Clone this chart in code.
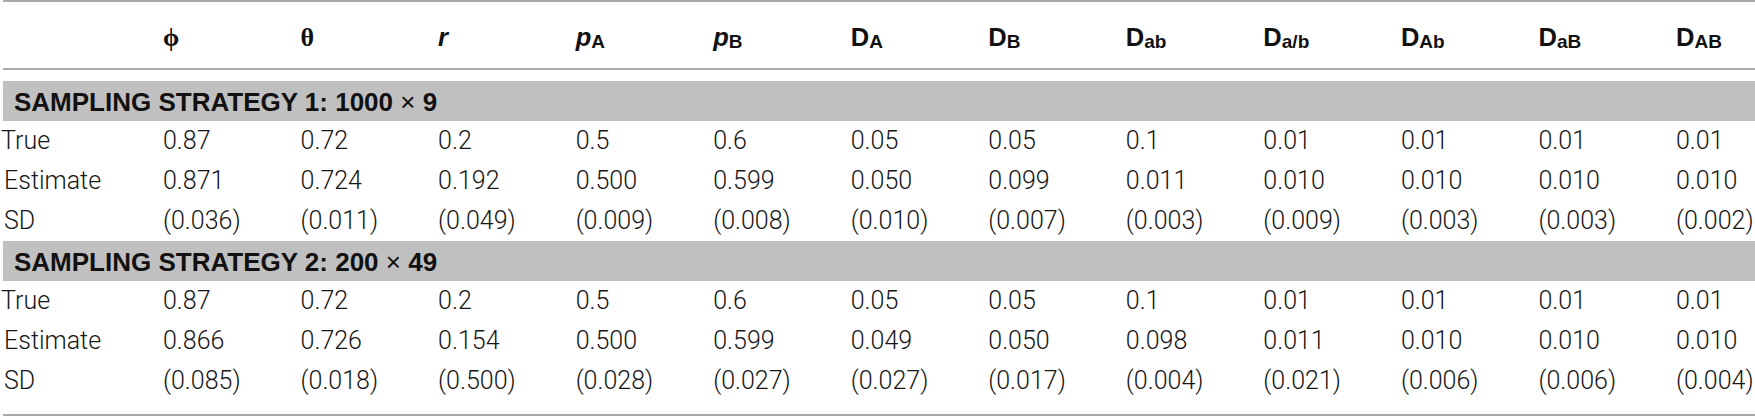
<!DOCTYPE html>
<html>
<head>
<meta charset="utf-8">
<script src="https://cdn.jsdelivr.net/npm/d3@7"></script>
<style>
  html, body { margin: 0; padding: 0; background: #fff; }
  .body-text { font-family: Roboto, 'Liberation Sans', sans-serif; font-weight: 300; font-size: 25px; fill: #161616; }
  .head-text { font-family: 'Liberation Sans', Arial, sans-serif; font-weight: bold; font-size: 25.5px; fill: #111; }
  .greek { font-family: 'Liberation Serif', 'DejaVu Serif', serif; font-weight: bold; font-size: 26px; }
  .section-text { font-family: 'Liberation Sans', Arial, sans-serif; font-weight: bold; font-size: 26px; fill: #111; }
</style>
</head>
<body>
<div id="table"></div>
<script>
// column headers: symbol, subscript, style
const columns = ['phi', 'theta', 'r', 'pA', 'pB', 'DA', 'DB', 'Dab', 'Da/b', 'DAb', 'DaB', 'DAB']
const headerBase = ['\u03D5', '\u03B8', 'r', 'p', 'p', 'D', 'D', 'D', 'D', 'D', 'D', 'D']
const headerSub = ['', '', '', 'A', 'B', 'A', 'B', 'ab', 'a/b', 'Ab', 'aB', 'AB']
const headerKind = ['greek', 'greek', 'italic', 'italic', 'italic', 'plain', 'plain', 'plain', 'plain', 'plain', 'plain', 'plain']

const sections = ['SAMPLING STRATEGY 1: 1000 \u00D7 9', 'SAMPLING STRATEGY 2: 200 \u00D7 49']
const rowLabels = ['True', 'Estimate', 'SD']

const trueValues = [0.87, 0.72, 0.2, 0.5, 0.6, 0.05, 0.05, 0.1, 0.01, 0.01, 0.01, 0.01]
const estimate1 = [0.871, 0.724, 0.192, 0.5, 0.599, 0.05, 0.099, 0.011, 0.01, 0.01, 0.01, 0.01]
const sd1 = [0.036, 0.011, 0.049, 0.009, 0.008, 0.01, 0.007, 0.003, 0.009, 0.003, 0.003, 0.002]
const estimate2 = [0.866, 0.726, 0.154, 0.5, 0.599, 0.049, 0.05, 0.098, 0.011, 0.01, 0.01, 0.01]
const sd2 = [0.085, 0.018, 0.5, 0.028, 0.027, 0.027, 0.017, 0.004, 0.021, 0.006, 0.006, 0.004]

const width = 1755
const height = 416

const svg = d3
  .select('#table')
  .append('svg')
  .attr('width', width)
  .attr('height', height)

const xPositionScale = d3
  .scalePoint()
  .domain(columns)
  .range([163, 1676])

// 8 rows of 40px: band, True, Estimate, SD, band, True, Estimate, SD
const yPositionScale = d3
  .scaleBand()
  .domain(d3.range(8))
  .range([81, 401])

const f3 = d3.format('.3f')

const tableRows = [
  { section: 0, values: [trueValues, estimate1, sd1] },
  { section: 1, values: [trueValues, estimate2, sd2] }
]

// horizontal rules
svg
  .selectAll('.rule')
  .data([1, 69, 415])
  .enter()
  .append('line')
  .attr('class', 'rule')
  .attr('x1', 3)
  .attr('x2', width)
  .attr('y1', d => d)
  .attr('y2', d => d)
  .attr('stroke', '#a9a9a9')
  .attr('stroke-width', 2)

// header
const header = svg
  .selectAll('.head')
  .data(columns)
  .enter()
  .append('text')
  .attr('class', (d, i) => (headerKind[i] === 'greek' ? 'head-text greek' : 'head-text'))
  .attr('x', d => xPositionScale(d))
  .attr('y', 46)

header
  .append('tspan')
  .attr('font-style', (d, i) => (headerKind[i] === 'italic' ? 'italic' : 'normal'))
  .text((d, i) => headerBase[i])

header
  .filter((d, i) => headerSub[i] !== '')
  .append('tspan')
  .attr('font-size', 19)
  .attr('dy', 2)
  .text(d => headerSub[columns.indexOf(d)])

// sections
tableRows.forEach(block => {
  const bandRow = block.section * 4

  svg
    .append('rect')
    .attr('x', 3)
    .attr('width', width - 3)
    .attr('y', yPositionScale(bandRow))
    .attr('height', yPositionScale.bandwidth())
    .attr('fill', '#c0c0c0')

  const parts = sections[block.section].split('\u00D7')
  const title = svg
    .append('text')
    .attr('class', 'section-text')
    .attr('x', 14)
    .attr('y', yPositionScale(bandRow) + 30)
  title.append('tspan').text(parts[0])
  title.append('tspan').attr('font-weight', 'normal').text('\u00D7')
  title.append('tspan').text(parts[1])

  rowLabels.forEach((label, r) => {
    const rowY = yPositionScale(bandRow + 1 + r) + 28

    svg
      .append('text')
      .attr('class', 'body-text')
      .attr('x', label === 'True' ? 1 : 4)
      .attr('y', rowY)
      .text(label)

    svg
      .selectAll('.cell-' + block.section + '-' + r)
      .data(block.values[r])
      .enter()
      .append('text')
      .attr('class', 'body-text cell-' + block.section + '-' + r)
      .attr('x', (d, i) => xPositionScale(columns[i]))
      .attr('y', rowY)
      .text(d => {
        if (r === 0) return String(d)
        if (r === 1) return f3(d)
        return '(' + f3(d) + ')'
      })
  })
})
</script>
</body>
</html>
